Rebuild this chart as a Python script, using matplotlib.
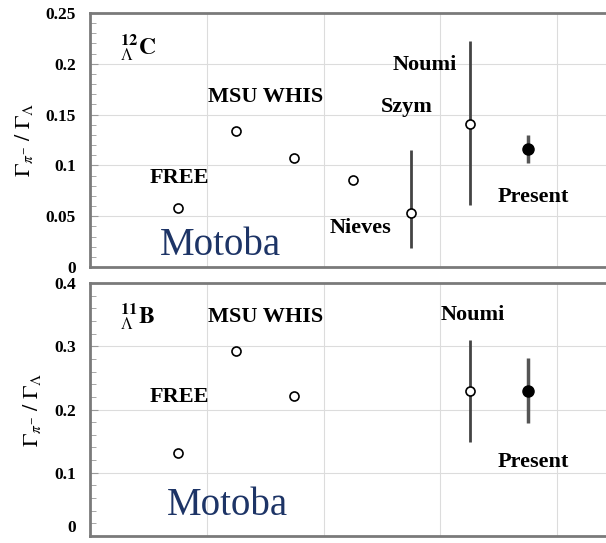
import numpy as np
import matplotlib
matplotlib.use("Agg")
import matplotlib.pyplot as plt

plt.rcParams['font.family'] = ['Liberation Serif', 'DejaVu Serif']
plt.rcParams['mathtext.fontset'] = 'stix'

# 12_Lambda C panel
c_x = [0.75, 1.25, 1.75, 2.25, 2.75, 3.25]
c_y = [0.058, 0.134, 0.107, 0.086, 0.053, 0.141]
c_lo = [0.0, 0.0, 0.0, 0.0, 0.034, 0.080]
c_hi = [0.0, 0.0, 0.0, 0.0, 0.062, 0.081]
c_pres_x = [3.75]
c_pres_y = [0.116]
c_pres_err = [0.014]

# 11_Lambda B panel
b_x = [0.75, 1.25, 1.75, 3.25]
b_y = [0.132, 0.293, 0.222, 0.229]
b_lo = [0.0, 0.0, 0.0, 0.081]
b_hi = [0.0, 0.0, 0.0, 0.081]
b_pres_x = [3.75]
b_pres_y = [0.230]
b_pres_err = [0.051]

c_labels = [("FREE", 0.51, 0.088), ("MSU WHIS", 1.01, 0.167), ("Noumi", 2.59, 0.199),
            ("Szym", 2.49, 0.157), ("Nieves", 2.05, 0.038), ("Present", 3.49, 0.069)]
b_labels = [("FREE", 0.51, 0.219), ("MSU WHIS", 1.01, 0.346), ("Noumi", 3.0, 0.35),
            ("Present", 3.49, 0.117)]

W, H = 606, 543
fig = plt.figure(figsize=(W / 100, H / 100), dpi=100)
ax1 = fig.add_axes([90 / W, 1 - 267 / H, 584 / W, 254 / H])
ax2 = fig.add_axes([90 / W, 1 - 536 / H, 584 / W, 253 / H])

ylab = r'$\Gamma_{\pi^{-}}\ /\ \Gamma_{\Lambda}$'


def style(ax, ymax, major, minor):
    ax.set_xlim(0, 5)
    ax.set_ylim(0, ymax)
    ax.set_xticks([1, 2, 3, 4])
    ax.set_yticks(np.arange(0, ymax + 1e-9, major))
    ax.set_yticks(np.arange(0, ymax + 1e-9, minor), minor=True)
    ax.grid(True, color='#dcdcdc', lw=0.8)
    ax.set_axisbelow(True)
    ax.tick_params(axis='x', length=0, labelbottom=False)
    ax.tick_params(axis='y', which='both', direction='in', color='#999999', pad=10)
    ax.tick_params(axis='y', which='major', length=6, labelsize=12.5)
    ax.tick_params(axis='y', which='minor', length=4)
    for s in ax.spines.values():
        s.set_color('#7a7a7a')
        s.set_linewidth(2)
    ax.set_ylabel(ylab, fontsize=16, labelpad=8)


style(ax1, 0.25, 0.05, 0.01)
ax1.set_yticklabels(['0', '0.05', '0.1', '0.15', '0.2', '0.25'], fontweight='bold')
style(ax2, 0.4, 0.1, 0.02)
ax2.set_yticklabels(['0', '0.1', '0.2', '0.3', '0.4'], fontweight='bold')
ax2.get_yticklabels()[0].set_va('bottom')

for ax, xs, ys, lo, hi, px, py, pe in [(ax1, c_x, c_y, c_lo, c_hi, c_pres_x, c_pres_y, c_pres_err),
                                        (ax2, b_x, b_y, b_lo, b_hi, b_pres_x, b_pres_y, b_pres_err)]:
    ax.errorbar(xs, ys, yerr=[lo, hi], fmt='o', ms=6.5, mfc='white', mec='black', mew=1.2,
                ecolor='#444444', elinewidth=2, capsize=0, zorder=3)
    ax.errorbar(px, py, yerr=pe, fmt='o', ms=8, mfc='black', mec='black',
                ecolor='#555555', elinewidth=2.5, capsize=0, zorder=3)

for ax, labels in [(ax1, c_labels), (ax2, b_labels)]:
    for t, x, y in labels:
        ax.text(x, y, t, fontsize=16, fontweight='bold', ha='left', va='center')

ax1.text(0.26, 0.216, r'${}^{\mathbf{12}}_{\Lambda}\mathbf{C}$', fontsize=17, ha='left', va='center')
ax2.text(0.26, 0.346, r'${}^{\mathbf{11}}_{\Lambda}\mathbf{B}$', fontsize=17, ha='left', va='center')

ax1.text(0.60, 0.021, 'Motoba', fontsize=28, color='#1d3466', ha='left', va='center')
ax2.text(0.66, 0.048, 'Motoba', fontsize=28, color='#1d3466', ha='left', va='center')

fig.savefig('out.png', dpi=100)
